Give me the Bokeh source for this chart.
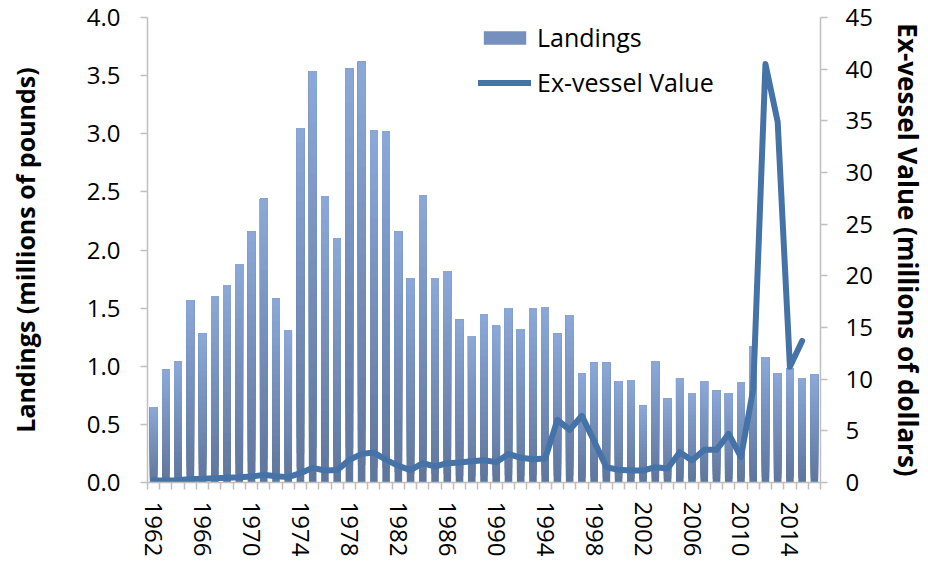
import math
from bokeh.plotting import figure
from bokeh.models import (Range1d, LinearAxis, FixedTicker, Legend, LegendItem,
                          NumeralTickFormatter)
from bokeh.embed import file_html
from bokeh.resources import INLINE

years = list(range(1962, 2017))
landings = [0.65, 0.97, 1.04, 1.57, 1.28, 1.60, 1.70, 1.88, 2.16, 2.44,
            1.58, 1.31, 3.05, 3.54, 2.46, 2.10, 3.56, 3.62, 3.03, 3.02,
            2.16, 1.76, 2.47, 1.76, 1.82, 1.40, 1.26, 1.45, 1.35, 1.50,
            1.32, 1.50, 1.51, 1.28, 1.44, 0.94, 1.03, 1.03, 0.87, 0.88,
            0.66, 1.04, 0.72, 0.90, 0.77, 0.87, 0.79, 0.77, 0.86, 1.17,
            1.08, 0.94, 0.98, 0.90, 0.93]
value_years = list(range(1962, 2016))
exvessel = [0.19, 0.20, 0.22, 0.35, 0.36, 0.40, 0.45, 0.50, 0.58, 0.74,
            0.60, 0.52, 0.90, 1.42, 1.16, 1.20, 2.19, 2.77, 2.90, 2.19,
            1.61, 1.20, 1.87, 1.55, 1.87, 1.93, 2.06, 2.15, 1.97, 2.77,
            2.39, 2.26, 2.32, 6.06, 5.10, 6.45, 4.00, 1.48, 1.23, 1.16,
            1.16, 1.48, 1.35, 2.93, 2.13, 3.16, 3.16, 4.71, 2.45, 9.03,
            40.5, 34.9, 11.2, 13.7]
label_years = list(range(1962, 2017, 4))
left_ticks = [0, 0.5, 1, 1.5, 2, 2.5, 3, 3.5, 4]
right_ticks = [0, 5, 10, 15, 20, 25, 30, 35, 40, 45]
left_title = "Landings (millions of pounds)"
right_title = "Ex-vessel Value (millions of dollars)"

FONT = "Open Sans"
TICK_SIZE = "24px"
AXIS_GRAY = "#bfbfbf"
LINE_BLUE = "#4573a8"
TOP_C = (0x8b, 0xa8, 0xd9)
BOT_C = (0x5e, 0x76, 0x9c)

p = figure(width=928, height=561, output_backend="svg", toolbar_location=None,
           x_range=Range1d(1961.5, 2016.5), y_range=Range1d(0, 4),
           min_border_left=147, min_border_right=105, min_border_top=17,
           min_border_bottom=79)
p.outline_line_color = None
p.xgrid.visible = False
p.ygrid.visible = False
p.background_fill_color = "white"
p.border_fill_color = "white"
p.extra_y_ranges = {"val": Range1d(0, 45)}

# gradient bars: overlapping bands, each from a fraction of the value up to the value
N = 24
band_renderers = []
for k in range(N):
    f = (k + 0.5) / N
    c = tuple(int(round(BOT_C[i] + (TOP_C[i] - BOT_C[i]) * f)) for i in range(3))
    col = "#%02x%02x%02x" % c
    bottoms = [v * k / N for v in landings]
    r = p.vbar(x=years, top=landings, bottom=bottoms, width=0.62,
               fill_color=col, line_color=None)
    band_renderers.append(r)

line_r = p.line(value_years, exvessel, y_range_name="val", line_color=LINE_BLUE,
                line_width=6, line_join="round", line_cap="round")

# x axis
xa = p.xaxis[0]
xa.ticker = FixedTicker(ticks=label_years,
                        minor_ticks=[y + 0.5 for y in range(1961, 2017)])
xa.major_tick_line_color = None
xa.minor_tick_out = 7
xa.minor_tick_in = 0
xa.minor_tick_line_color = AXIS_GRAY
xa.minor_tick_line_width = 1.5
xa.axis_line_color = AXIS_GRAY
xa.axis_line_width = 1.5
xa.major_label_orientation = -math.pi / 2
xa.major_label_text_font = FONT
xa.major_label_text_font_size = TICK_SIZE
xa.major_label_text_color = "#000000"
xa.major_label_standoff = 12

# left axis
ya = p.yaxis[0]
ya.ticker = FixedTicker(ticks=left_ticks)
ya.formatter = NumeralTickFormatter(format="0.0")
ya.minor_tick_line_color = None
ya.major_tick_out = 7
ya.major_tick_in = 0
ya.major_tick_line_color = AXIS_GRAY
ya.major_tick_line_width = 1.5
ya.axis_line_color = AXIS_GRAY
ya.axis_line_width = 1.5
ya.major_label_text_font = FONT
ya.major_label_text_font_size = TICK_SIZE
ya.major_label_text_color = "#000000"
ya.major_label_standoff = 20
ya.axis_label = left_title
ya.axis_label_text_font = FONT
ya.axis_label_text_font_style = "bold"
ya.axis_label_text_font_size = "25px"
ya.axis_label_text_color = "#000000"
ya.axis_label_standoff = 42

# right axis
ra = LinearAxis(y_range_name="val", ticker=FixedTicker(ticks=right_ticks))
ra.minor_tick_line_color = None
ra.major_tick_out = 7
ra.major_tick_in = 0
ra.major_tick_line_color = AXIS_GRAY
ra.major_tick_line_width = 1.5
ra.axis_line_color = AXIS_GRAY
ra.axis_line_width = 1.5
ra.major_label_text_font = FONT
ra.major_label_text_font_size = TICK_SIZE
ra.major_label_text_color = "#000000"
ra.major_label_standoff = 18
ra.axis_label = right_title
ra.axis_label_text_font = FONT
ra.axis_label_text_font_style = "bold"
ra.axis_label_text_font_size = "26px"
ra.axis_label_text_color = "#000000"
ra.axis_label_standoff = 14
p.add_layout(ra, "right")

legend = Legend(items=[LegendItem(label="Landings", renderers=[band_renderers[N // 2]]),
                       LegendItem(label="Ex-vessel Value", renderers=[line_r])],
                location=(331, 383), orientation="vertical",
                glyph_width=53, glyph_height=17, label_height=28,
                spacing=11, padding=0, margin=0, label_standoff=6,
                label_text_font=FONT, label_text_font_size="25px",
                label_text_color="#000000",
                border_line_color=None, background_fill_alpha=0)
p.add_layout(legend, "center")

open("out.html", "w").write(file_html(p, INLINE))
